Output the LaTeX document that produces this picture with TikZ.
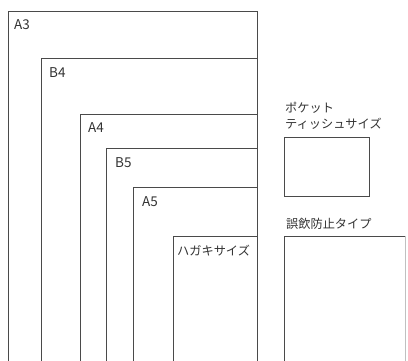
\documentclass[tikz,border=0pt]{standalone}
\usepackage{fontspec}
\setmainfont{Noto Sans CJK JP}
\newfontfamily\jp{Noto Sans CJK JP}
\definecolor{edge}{HTML}{4A4A4A}
\definecolor{ink}{HTML}{333333}
\begin{document}
\begin{tikzpicture}[x=1pt,y=-1pt,
  paper/.style={draw=edge,line width=0.9pt},
  faint/.style={draw=edge!35,line width=0.6pt},
  size/.style={anchor=base west,inner sep=0pt,text=ink,font=\fontsize{13.5}{13.5}\selectfont},
  jlabel/.style={anchor=base west,inner sep=0pt,text=ink,font=\jp\fontsize{12.2}{14}\selectfont,align=left}]
\useasboundingbox (0,0) rectangle (408,361);
% nested paper sizes (open at the bottom)
\draw[paper] (8,361) -- (8,11) -- (257,11) -- (257,361);
\draw[paper] (41,361) -- (41,58) -- (257,58);
\draw[paper] (80,361) -- (80,114) -- (257,114);
\draw[paper] (106,361) -- (106,148) -- (257,148);
\draw[paper] (133,361) -- (133,187) -- (257,187);
\draw[paper] (173,361) -- (173,236) -- (257,236);
\node[size] (a3) at (14,30) {A3};
\node[size] (b4) at (49,78) {B4};
\node[size] (a4) at (88,133) {A4};
\node[size] (b5) at (115,168) {B5};
\node[size] (a5) at (142,207) {A5};
\node[jlabel] (hagaki) at (177,255) {ハガキサイズ};
% pocket tissue
\node[jlabel] (pocket) at (285,113) {ポケット};
\node[jlabel] (tissue) at (285,129) {ティッシュサイズ};
\draw[paper] (284,137) rectangle (369,196);
% choking prevention type
\node[jlabel] (gooin) at (286,229) {誤飲防止タイプ};
\draw[paper] (284,361) -- (284,236) -- (405,236);
\draw[faint] (405,236) -- (405,361);
\end{tikzpicture}
\end{document}
